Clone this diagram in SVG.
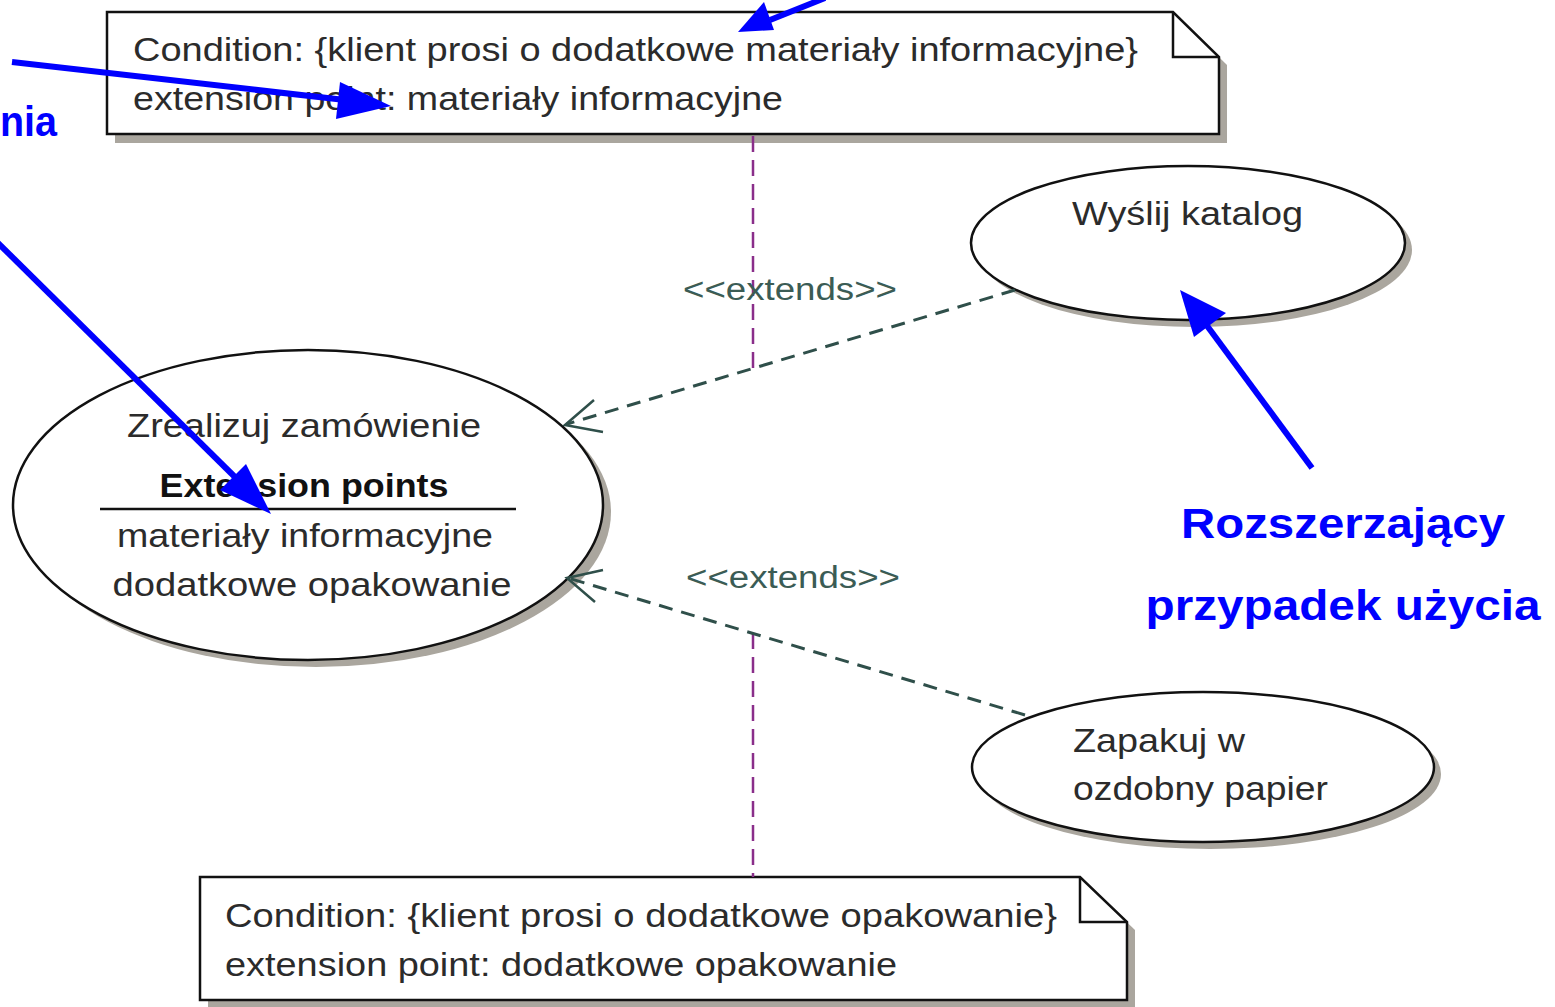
<svg xmlns="http://www.w3.org/2000/svg" width="1555" height="1007" viewBox="0 0 1555 1007">
  <style>
    .shadow { fill: #aaa69e; stroke: none; }
    .box { fill: #ffffff; stroke: #111111; stroke-width: 2.5; }
    .fold { fill: none; stroke: #111111; stroke-width: 2.5; }
    .t { font-family: "Liberation Sans", Arial, sans-serif; font-size: 34px; fill: #2b2b2b; }
    .tb { font-family: "Liberation Sans", Arial, sans-serif; font-size: 34px; font-weight: bold; fill: #111111; }
    .stereo { font-family: "Liberation Sans", Arial, sans-serif; font-size: 31px; fill: #3b5c55; }
    .dep { fill: none; stroke: #2f4f4a; stroke-width: 3; stroke-dasharray: 14 9; }
    .head { fill: none; stroke: #2f4f4a; stroke-width: 2.5; }
    .anchor { fill: none; stroke: #8a2e8a; stroke-width: 2.5; stroke-dasharray: 16 8; }
    .ann { stroke: #0000ff; stroke-width: 6; fill: none; }
    .annhead { fill: #0000ff; stroke: none; }
    .annt { font-family: "Liberation Sans", Arial, sans-serif; font-size: 42px; font-weight: bold; fill: #0000ff; }
  </style>

  <rect width="1555" height="1007" fill="#ffffff"/>

  <!-- notes -->
  <g id="note-materialy">
    <path class="shadow" d="M115,20 H1181 L1227,65 V143 H115 Z"/>
    <path class="box" d="M107,12 H1173 L1219,57 V134 H107 Z"/>
    <path class="fold" d="M1173,12 V57 H1219"/>
    <text class="t" x="133" y="61" textLength="1005" lengthAdjust="spacingAndGlyphs">Condition: {klient prosi o dodatkowe materiały informacyjne}</text>
    <text class="t" x="133" y="110" textLength="650" lengthAdjust="spacingAndGlyphs">extension point: materiały informacyjne</text>
  </g>

  <g id="note-opakowanie">
    <path class="shadow" d="M208,885 H1088 L1135,930 V1009 H208 Z"/>
    <path class="box" d="M200,877 H1080 L1127,922 V1000 H200 Z"/>
    <path class="fold" d="M1080,877 V922 H1127"/>
    <text class="t" x="225" y="927" textLength="832" lengthAdjust="spacingAndGlyphs">Condition: {klient prosi o dodatkowe opakowanie}</text>
    <text class="t" x="225" y="976" textLength="672" lengthAdjust="spacingAndGlyphs">extension point: dodatkowe opakowanie</text>
  </g>

  <!-- use cases -->
  <g id="uc-zrealizuj">
    <ellipse class="shadow" cx="316" cy="512" rx="295" ry="155"/>
    <ellipse class="box" cx="308" cy="505" rx="295" ry="155"/>
    <text class="t" x="304" y="437" text-anchor="middle" textLength="354" lengthAdjust="spacingAndGlyphs">Zrealizuj zamówienie</text>
    <text class="tb" x="304" y="497" text-anchor="middle" textLength="289" lengthAdjust="spacingAndGlyphs">Extension points</text>
    <line x1="100" y1="509" x2="516" y2="509" stroke="#111111" stroke-width="2.5"/>
    <text class="t" x="305" y="547" text-anchor="middle" textLength="376" lengthAdjust="spacingAndGlyphs">materiały informacyjne</text>
    <text class="t" x="312" y="596" text-anchor="middle" textLength="399" lengthAdjust="spacingAndGlyphs">dodatkowe opakowanie</text>
  </g>

  <g id="uc-wyslij">
    <ellipse class="shadow" cx="1195" cy="250" rx="217" ry="77"/>
    <ellipse class="box" cx="1188" cy="243" rx="217" ry="77"/>
    <text class="t" x="1072" y="225" textLength="231" lengthAdjust="spacingAndGlyphs">Wyślij katalog</text>
  </g>

  <g id="uc-zapakuj">
    <ellipse class="shadow" cx="1210" cy="774" rx="231" ry="75"/>
    <ellipse class="box" cx="1203" cy="767" rx="231" ry="75"/>
    <text class="t" x="1073" y="752" textLength="172" lengthAdjust="spacingAndGlyphs">Zapakuj w</text>
    <text class="t" x="1073" y="800" textLength="255" lengthAdjust="spacingAndGlyphs">ozdobny papier</text>
  </g>

  <!-- extend relationships and note anchors -->
  <g id="connectors">
    <line class="anchor" x1="753" y1="136" x2="753" y2="369"/>
    <line class="anchor" x1="753" y1="633" x2="753" y2="877"/>

    <line class="dep" x1="1015" y1="290" x2="567" y2="424"/>
    <polyline class="head" points="594,400 565,425 603,432"/>
    <text class="stereo" x="683" y="300" textLength="214" lengthAdjust="spacingAndGlyphs">&lt;&lt;extends&gt;&gt;</text>

    <line class="dep" x1="1025" y1="715" x2="568" y2="578"/>
    <polyline class="head" points="603,570 567,578 595,602"/>
    <text class="stereo" x="686" y="588" textLength="214" lengthAdjust="spacingAndGlyphs">&lt;&lt;extends&gt;&gt;</text>
  </g>

  <!-- blue callouts -->
  <g id="callouts">
    <line class="ann" x1="12" y1="62" x2="345" y2="100"/>
    <polygon class="annhead" points="391,106 340,82 336,119"/>

    <line class="ann" x1="-5" y1="240" x2="240" y2="482"/>
    <polygon class="annhead" points="271,514 220,490 246,464"/>

    <line class="ann" x1="825" y1="-2" x2="770" y2="20"/>
    <polygon class="annhead" points="738,32 764,2 774,30"/>

    <line class="ann" x1="1312" y1="468" x2="1205" y2="323"/>
    <polygon class="annhead" points="1180,290 1226,313 1194,337"/>

    <text class="annt" x="0" y="136" textLength="57" lengthAdjust="spacingAndGlyphs">nia</text>
    <text class="annt" x="1343" y="538" text-anchor="middle" textLength="324" lengthAdjust="spacingAndGlyphs">Rozszerzający</text>
    <text class="annt" x="1343" y="620" text-anchor="middle" textLength="395" lengthAdjust="spacingAndGlyphs">przypadek użycia</text>
  </g>
</svg>
